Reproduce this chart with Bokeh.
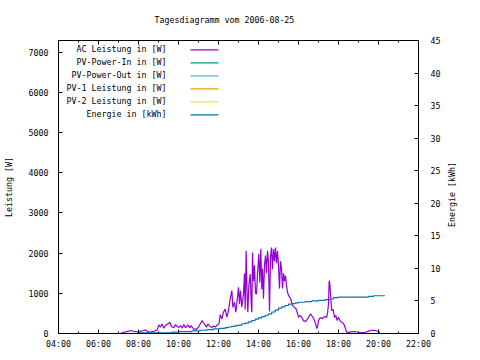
import math
import pandas as pd
from bokeh.plotting import figure
from bokeh.models import (Range1d, LinearAxis, DatetimeAxis, FixedTicker, Label, BoxAnnotation)
from bokeh.embed import file_html
from bokeh.resources import INLINE

DAY = "2006-08-25"
TITLE = "Tagesdiagramm vom " + DAY

# AC Leistung [W]
ac_time = ["07:09","07:16","07:24","07:31","07:38","07:46","07:54","08:01","08:08","08:14",
           "08:21","08:26","08:31","08:36","08:41","08:46","08:51","08:56","09:01","09:06",
           "09:11","09:16","09:21","09:28","09:34","09:39","09:46","09:51","09:56","10:01",
           "10:06","10:11","10:16","10:21","10:28","10:34","10:38","10:42","10:46","10:50",
           "10:54","11:01","11:06","11:11","11:15","11:18","11:24","11:28","11:34","11:40",
           "11:45","11:50","11:55","12:01","12:03","12:05","12:10","12:15","12:20","12:25",
           "12:30","12:35","12:40","12:43","12:48","12:52","12:57","13:00","13:03","13:06",
           "13:10","13:15","13:18","13:20","13:23","13:26","13:28","13:31","13:35","13:38",
           "13:40","13:42","13:45","13:48","13:51","13:54","13:57","14:01","14:04","14:07",
           "14:10","14:12","14:15","14:18","14:21","14:24","14:27","14:30","14:33","14:36",
           "14:39","14:42","14:45","14:48","14:51","14:54","14:57","15:00","15:03","15:06",
           "15:09","15:12","15:15","15:18","15:21","15:24","15:27","15:30","15:36","15:42",
           "15:48","15:52","15:56","16:00","16:05","16:10","16:15","16:21","16:26","16:30",
           "16:36","16:40","16:44","16:48","16:51","16:55","16:57","17:00","17:05","17:12",
           "17:18","17:24","17:27","17:30","17:32","17:34","17:36","17:38","17:40","17:44",
           "17:48","17:52","17:56","18:00","18:06","18:12","18:18","18:24","18:30","18:40",
           "18:50","19:00","19:10","19:20","19:30","19:36","19:45","19:51","20:00","20:04"]
ac_power = [17,32,45,57,74,50,45,42,60,74,
            91,57,40,32,45,57,75,91,215,157,
            240,132,198,240,280,174,141,223,174,150,
            198,132,223,141,215,141,198,150,100,120,
            100,174,250,323,260,240,157,240,182,150,
            190,160,200,240,323,470,364,530,612,405,
            570,860,1067,653,777,530,900,1150,737,1067,
            653,985,1500,600,2060,900,530,1200,1480,800,
            530,2017,1300,1700,1000,985,1490,1985,1270,2110,
            1100,1610,870,1700,1940,1500,2060,1770,545,1900,
            2140,1600,2100,1800,2140,1750,2050,1690,1120,1800,
            1610,1120,1500,1300,1440,1200,1025,950,870,706,
            650,620,530,400,450,400,320,300,350,400,
            490,440,400,320,250,125,150,320,400,370,
            420,400,490,740,1315,1240,990,740,570,600,
            400,450,320,400,300,270,200,40,30,45,
            50,25,25,25,60,75,80,75,50,20]

# Energie [kWh]
en_time = ["07:56","09:40","10:00","10:40","11:05","11:25","11:45","12:05","12:20","12:30",
           "12:40","12:50","13:00","13:10","13:20","13:30","13:40","13:50","14:00","14:10",
           "14:20","14:30","14:40","14:50","15:00","15:10","15:20","15:30","15:40","15:50",
           "16:00","16:20","16:40","17:00","17:20","17:35","17:45","18:00","19:30","19:45","20:19"]
en_value = [0.1,0.2,0.3,0.4,0.5,0.6,0.7,0.8,0.9,1.0,
            1.1,1.2,1.3,1.5,1.6,1.8,2.0,2.2,2.4,2.6,
            2.8,3.0,3.3,3.6,3.9,4.1,4.3,4.5,4.6,4.7,
            4.8,4.9,5.0,5.1,5.2,5.3,5.5,5.6,5.7,5.8,5.8]

X_TICKS = ["04:00","06:00","08:00","10:00","12:00","14:00","16:00","18:00","20:00","22:00"]
X_MINOR = ["05:00","07:00","09:00","11:00","13:00","15:00","17:00","19:00","21:00"]
Y_TICKS = [0,1000,2000,3000,4000,5000,6000,7000]
Y2_TICKS = [0,5,10,15,20,25,30,35,40,45]

LEGEND = ["AC Leistung in [W]","PV-Power-In in [W]","PV-Power-Out in [W]",
          "PV-1 Leistung in [W]","PV-2 Leistung in [W]","Energie in [kWh]"]
COLORS = ["#9400d3","#009e73","#56b4e9","#e69f00","#f0e442","#0072b2"]

FONT = "DejaVu Sans Mono"
FS = "8.3px"

def dt(t):
    return pd.Timestamp(DAY + " " + t)

def ms(t):
    return dt(t).value // 10**6

p = figure(frame_width=360, frame_height=293, x_axis_type="datetime",
           output_backend="svg", toolbar_location=None,
           x_range=Range1d(dt("04:00"), dt("22:00")), y_range=Range1d(0, 7290),
           min_border_left=50, min_border_right=54, min_border_top=40, min_border_bottom=19)
p.extra_y_ranges = {"en": Range1d(0, 45)}
p.xgrid.visible = False
p.ygrid.visible = False
p.outline_line_color = "black"
p.outline_line_width = 1
p.background_fill_color = "white"
p.border_fill_color = "white"

p.title.text = TITLE
p.title.align = "left"
p.title.offset = 96
p.title.text_font = FONT
p.title.text_font_size = FS
p.title.text_font_style = "normal"
p.title.text_color = "black"
p.title.vertical_align = "top"
p.title.standoff = 28

def style_axis(ax):
    ax.major_label_text_font = FONT
    ax.major_label_text_font_size = FS
    ax.major_label_text_color = "black"
    ax.axis_label_text_font = FONT
    ax.axis_label_text_font_size = FS
    ax.axis_label_text_font_style = "normal"
    ax.axis_label_text_color = "black"
    ax.axis_line_color = "black"
    ax.major_tick_line_color = "black"
    ax.minor_tick_line_color = "black"
    ax.major_tick_in = 4
    ax.major_tick_out = 0
    ax.minor_tick_in = 2
    ax.minor_tick_out = 0

xa = p.xaxis[0]
style_axis(xa)
xa.ticker = FixedTicker(ticks=[ms(t) for t in X_TICKS], minor_ticks=[ms(t) for t in X_MINOR])
xa.major_label_overrides = {ms(t): t for t in X_TICKS}
xa.major_label_standoff = 5

ya = p.yaxis[0]
style_axis(ya)
ya.ticker = FixedTicker(ticks=Y_TICKS, minor_ticks=[])
ya.axis_label = "Leistung [W]"
ya.major_label_standoff = 10
ya.axis_label_standoff = 12

y2 = LinearAxis(y_range_name="en", ticker=FixedTicker(ticks=Y2_TICKS, minor_ticks=[]))
style_axis(y2)
y2.major_label_standoff = 12
p.add_layout(y2, "right")

# right axis title, reading bottom-to-top like the reference, in the right side panel
p.add_layout(Label(x=8, y=139, x_units="screen", y_units="screen", text="Energie [kWh]",
                   angle=math.pi / 2, text_font=FONT, text_font_size=FS, text_color="black",
                   text_align="center", text_baseline="middle"), "right")

xt = DatetimeAxis(ticker=FixedTicker(ticks=[ms(t) for t in X_TICKS], minor_ticks=[ms(t) for t in X_MINOR]))
style_axis(xt)
xt.major_label_text_font_size = "0px"
xt.major_label_standoff = 0
p.add_layout(xt, "above")

ac_x = [dt(t) for t in ac_time]
p.line(ac_x, ac_power, line_color=COLORS[0], line_width=1.2)

en_x = [dt(t) for t in en_time]
p.step(en_x, en_value, mode="after", line_color=COLORS[5], line_width=1.2, y_range_name="en")

for i, (lab, col) in enumerate(zip(LEGEND, COLORS)):
    yb = 283 - 13 * i
    p.add_layout(Label(x=108, y=yb + 2, x_units="screen", y_units="screen", text=lab,
                       text_font=FONT, text_font_size=FS, text_align="right",
                       text_baseline="middle", text_color="black"))
    p.add_layout(BoxAnnotation(left=132, right=160, bottom=yb, top=yb + 1.3,
                               left_units="screen", right_units="screen",
                               bottom_units="screen", top_units="screen",
                               fill_color=col, fill_alpha=1, line_alpha=0))

open("out.html", "w").write(file_html(p, INLINE))
